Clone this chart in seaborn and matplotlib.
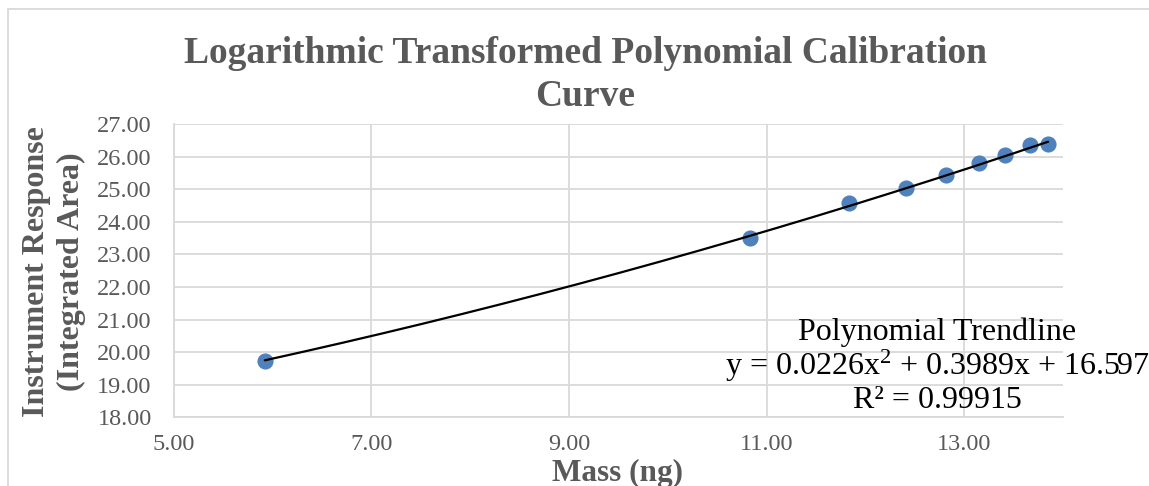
import numpy as np
import pandas as pd
import matplotlib
matplotlib.use("Agg")
import matplotlib.pyplot as plt
import seaborn as sns
from matplotlib.patches import Rectangle

# Data
mass = [5.92, 10.83, 11.83, 12.41, 12.82, 13.15, 13.41, 13.67, 13.85]
response = [19.74, 23.49, 24.57, 25.04, 25.43, 25.79, 26.04, 26.36, 26.38]
trend_coef = [0.0226, 0.3989, 16.597]  # a, b, c
x_ticks = [5, 7, 9, 11, 13]
y_ticks = [18, 19, 20, 21, 22, 23, 24, 25, 26, 27]

title = "Logarithmic Transformed Polynomial Calibration\nCurve"
xlabel = "Mass (ng)"
ylabel = "Instrument Response\n(Integrated Area)"
ann_lines = ["Polynomial Trendline",
             "y = 0.0226x$^{2}$ + 0.3989x + 16.597",
             "R\u00b2 = 0.99915"]

sns.set_theme(style="white")
plt.rcParams['font.family'] = ['Liberation Serif', 'DejaVu Serif']
plt.rcParams['mathtext.fontset'] = 'custom'
plt.rcParams['mathtext.rm'] = 'Liberation Serif'
plt.rcParams['mathtext.it'] = 'Liberation Serif'
plt.rcParams['mathtext.default'] = 'regular'

W, H = 1149, 486
fig = plt.figure(figsize=(W / 100, H / 100), dpi=100)
ax = fig.add_axes([173.9 / W, 1 - 417.4 / H, (1063 - 173.9) / W, (417.4 - 124) / H])

df = pd.DataFrame({"mass": mass, "response": response})
xt = np.linspace(min(mass), max(mass), 200)
a, b, c = trend_coef
tdf = pd.DataFrame({"x": xt, "y": a * xt ** 2 + b * xt + c})

grid_c = "#D9D9D9"
sns.lineplot(data=tdf, x="x", y="y", ax=ax, color="black", linewidth=1.6, zorder=3)
sns.scatterplot(data=df, x="mass", y="response", ax=ax, color="#4F81BD", s=135,
                edgecolor="#4F81BD", linewidth=0, zorder=2)

ax.set_xlim(5, 14)
ax.set_ylim(18, 27)
ax.set_xticks(x_ticks)
ax.set_yticks(y_ticks)
ax.set_xticklabels([f"{v:.2f}" for v in x_ticks])
ax.set_yticklabels([f"{v:.2f}" for v in y_ticks])
ax.grid(True, color=grid_c, linewidth=1.3)
ax.set_axisbelow(True)
for s in ["top", "right"]:
    ax.spines[s].set_visible(False)
for s in ["left", "bottom"]:
    ax.spines[s].set_color(grid_c)
    ax.spines[s].set_linewidth(1.3)
ax.tick_params(axis="both", length=0, labelsize=17.5, labelcolor="#595959")
ax.tick_params(axis="x", pad=12)
ax.tick_params(axis="y", pad=16)
ax.set_xlabel("")
ax.set_ylabel("")

fig.text(585 / W, 1 - 75 / H, title, ha="center", va="center", fontsize=27,
         fontweight="bold", color="#595959", linespacing=1.3)
fig.text(618 / W, 1 - 473 / H, xlabel, ha="center", va="center", fontsize=22.5,
         fontweight="bold", color="#595959")
fig.text(54 / W, 1 - 272 / H, ylabel, ha="center", va="center", fontsize=23,
         fontweight="bold", color="#595959", rotation=90, linespacing=1.3)

fig.text(937 / W, 1 - 366 / H, "\n".join(ann_lines), ha="center", va="center",
         fontsize=23, color="black", linespacing=1.05)

fig.patches.append(Rectangle((8 / W, -0.1), 1.2, 1.1 - 9 / H, transform=fig.transFigure,
                             fill=False, edgecolor=grid_c, linewidth=1.3, zorder=-1))

fig.savefig("out.png", dpi=100, facecolor="white")
